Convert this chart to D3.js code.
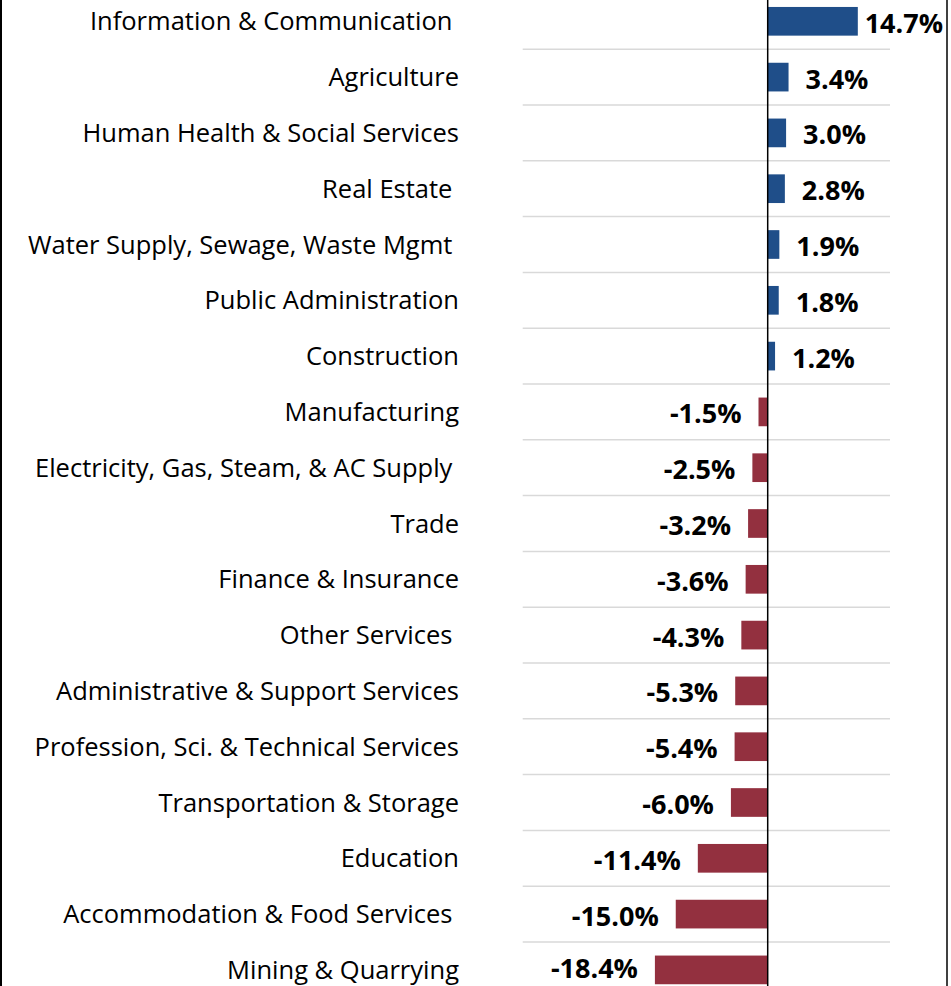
<!DOCTYPE html>
<html>
<head>
<meta charset="utf-8">
<script src="https://cdn.jsdelivr.net/npm/d3@7"></script>
<style>
  html, body { margin: 0; padding: 0; background: #fff; }
  svg { display: block; }
  text { white-space: pre; }
</style>
</head>
<body>
<script>
// sectors, sorted as in the chart
let sectors = [
    "Information & Communication ",
    "Agriculture",
    "Human Health & Social Services",
    "Real Estate ",
    "Water Supply, Sewage, Waste Mgmt ",
    "Public Administration",
    "Construction",
    "Manufacturing",
    "Electricity, Gas, Steam, & AC Supply ",
    "Trade",
    "Finance & Insurance",
    "Other Services ",
    "Administrative & Support Services",
    "Profession, Sci. & Technical Services",
    "Transportation & Storage",
    "Education",
    "Accommodation & Food Services ",
    "Mining & Quarrying"
]
let changes = [14.7, 3.4, 3.0, 2.8, 1.9, 1.8, 1.2, -1.5, -2.5, -3.2, -3.6, -4.3, -5.3, -5.4, -6.0, -11.4, -15.0, -18.4]

let width = 951
let height = 986
let fontFamily = "'Open Sans', Lato, sans-serif"

let svg = d3.select("body")
.append("svg")
.attr("width", width)
.attr("height", height)

let data = sectors.map((s, i) => ({name: s, value: changes[i]}))

let xScaler = d3.scaleLinear().domain([-20, 15]).range([645.1, 859.65])
let yScaler = d3.scaleBand().domain(sectors).range([-6.6, 997.8]).paddingInner(0.486).paddingOuter(0.243)

// separators between rows
let step = yScaler.step()
let y0 = yScaler.range()[0]
svg.append("g")
.selectAll("line")
.data(d3.range(1, sectors.length))
.join("line")
.attr("x1", 522.7)
.attr("x2", 890)
.attr("y1", i => y0 + i * step)
.attr("y2", i => y0 + i * step)
.attr("stroke", "#d9d9d9")
.attr("stroke-width", 1.5)

// bars
svg.append("g")
.selectAll("rect")
.data(data)
.join("rect")
.attr("x", d => xScaler(Math.min(0, d.value)))
.attr("width", d => Math.abs(xScaler(d.value) - xScaler(0)))
.attr("y", d => yScaler(d.name))
.attr("height", yScaler.bandwidth())
.attr("fill", d => d.value >= 0 ? "#1f4e89" : "#93303f")

// zero line
svg.append("line")
.attr("x1", xScaler(0)).attr("x2", xScaler(0))
.attr("y1", 0).attr("y2", height)
.attr("stroke", "#000")
.attr("stroke-width", 1.5)

let mid = d => yScaler(d.name) + yScaler.bandwidth() / 2

// category labels
svg.append("g")
.selectAll("text")
.data(data)
.join("text")
.attr("x", 459)
.attr("y", d => mid(d) + 9)
.attr("text-anchor", "end")
.attr("font-family", fontFamily)
.attr("font-size", 25.5)
.attr("fill", "#000")
.text(d => d.name)

// value labels
let vals = svg.append("g")
.selectAll("text")
.data(data)
.join("text")
.attr("y", d => Math.min(mid(d) + 11.5, 978))
.attr("font-family", fontFamily)
.attr("font-weight", "bold")
.attr("font-size", 27)
.attr("fill", "#000")
.attr("text-anchor", d => d.value >= 0 ? "start" : "end")
.text(d => d.value.toFixed(1) + "%")

vals.attr("x", function(d){
    if (d.value < 0) return xScaler(d.value) - 17
    let w = this.getComputedTextLength()
    return Math.min(xScaler(d.value) + 17, 943 - w)
})

// frame sides
svg.append("line").attr("x1", 1).attr("x2", 1).attr("y1", 0).attr("y2", height).attr("stroke", "#000").attr("stroke-width", 2)
svg.append("line").attr("x1", 947).attr("x2", 947).attr("y1", 0).attr("y2", height).attr("stroke", "#000").attr("stroke-width", 1.5)
</script>
</body>
</html>
